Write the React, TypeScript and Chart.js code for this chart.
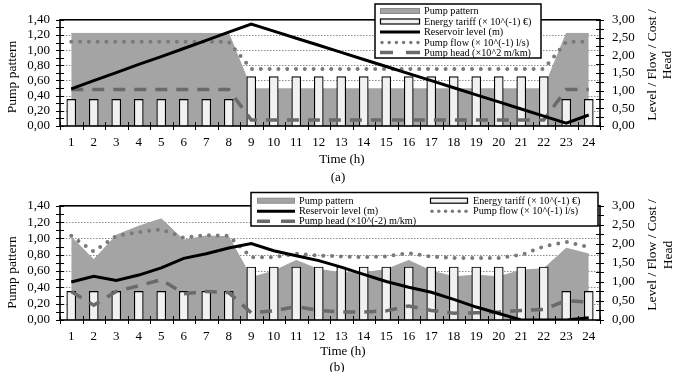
import React, { useEffect, useRef } from 'react';
import { Chart, registerables } from 'chart.js';

Chart.register(...registerables);

const FONT = '"Liberation Serif", "Times New Roman", serif';

const hours = ['1', '2', '3', '4', '5', '6', '7', '8', '9', '10', '11', '12', '13', '14', '15', '16', '17', '18', '19', '20', '21', '22', '23', '24'];
const leftTickLabels = ['0,00', '0,20', '0,40', '0,60', '0,80', '1,00', '1,20', '1,40'];
const rightTickLabels = ['0,00', '0,50', '1,00', '1,50', '2,00', '2,50', '3,00'];

// Panel (a) — pattern & tariff on left axis, lines on right axis
const patternA = [1.22, 1.22, 1.22, 1.22, 1.22, 1.22, 1.22, 1.22, 0.49, 0.49, 0.49, 0.49, 0.49, 0.49, 0.49, 0.49, 0.49, 0.49, 0.49, 0.49, 0.49, 0.49, 1.22, 1.22];
const tariffA = [0.35, 0.35, 0.35, 0.35, 0.35, 0.35, 0.35, 0.35, 0.65, 0.65, 0.65, 0.65, 0.65, 0.65, 0.65, 0.65, 0.65, 0.65, 0.65, 0.65, 0.65, 0.65, 0.35, 0.35];
const levelA = [1.05, 1.28, 1.51, 1.74, 1.96, 2.19, 2.42, 2.65, 2.88, 2.68, 2.48, 2.28, 2.08, 1.88, 1.68, 1.48, 1.28, 1.08, 0.88, 0.68, 0.48, 0.28, 0.08, 0.31];
const flowA = [2.38, 2.38, 2.38, 2.38, 2.38, 2.38, 2.38, 2.38, 1.61, 1.61, 1.61, 1.61, 1.61, 1.61, 1.61, 1.61, 1.61, 1.61, 1.61, 1.61, 1.61, 1.61, 2.38, 2.38];
const headA = [1.03, 1.03, 1.03, 1.03, 1.03, 1.03, 1.03, 1.03, 0.17, 0.17, 0.17, 0.17, 0.17, 0.17, 0.17, 0.17, 0.17, 0.17, 0.17, 0.17, 0.17, 0.17, 1.03, 1.03];

// Panel (b)
const patternB = [1.02, 0.74, 1.04, 1.15, 1.24, 0.98, 1.03, 1.02, 0.52, 0.6, 0.73, 0.62, 0.58, 0.58, 0.62, 0.73, 0.6, 0.53, 0.55, 0.53, 0.61, 0.63, 0.88, 0.81];
const tariffB = [0.35, 0.35, 0.35, 0.35, 0.35, 0.35, 0.35, 0.35, 0.65, 0.65, 0.65, 0.65, 0.65, 0.65, 0.65, 0.65, 0.65, 0.65, 0.65, 0.65, 0.65, 0.65, 0.35, 0.35];
const levelB = [1.0, 1.15, 1.04, 1.18, 1.37, 1.62, 1.74, 1.89, 2.01, 1.82, 1.69, 1.56, 1.39, 1.2, 1.01, 0.86, 0.73, 0.54, 0.34, 0.17, 0.0, 0.0, 0.0, 0.06];
const flowB = [2.21, 1.8, 2.21, 2.31, 2.38, 2.16, 2.23, 2.21, 1.65, 1.65, 1.74, 1.69, 1.67, 1.65, 1.67, 1.76, 1.66, 1.63, 1.63, 1.63, 1.71, 1.93, 2.05, 1.92];
const headB = [0.75, 0.39, 0.75, 0.9, 1.06, 0.69, 0.75, 0.72, 0.19, 0.24, 0.35, 0.25, 0.21, 0.21, 0.24, 0.37, 0.25, 0.18, 0.19, 0.21, 0.25, 0.28, 0.51, 0.47];

const GRAY_AREA = '#a4a4a4';
const GRAY_FLOW = '#7a7a7a';
const GRAY_HEAD = '#6a6a6a';
const BAR_FILL = '#f1f1f1';

type LegendItem = { kind: string; label: string; sx: number; sw: number; tx: number; y: number };
type PanelCfg = {
  height: number;
  padTop: number;
  xHeight: number;
  data: { pattern: number[]; tariff: number[]; level: number[]; flow: number[]; head: number[] };
  leftTitle: { x: number; y: number };
  rightTitle: { x1: number; x2: number; y: number };
  timeTitle: { x: number; y: number };
  caption: { text: string; x: number; y: number };
  box: { x: number; y: number; w: number; h: number };
  items: LegendItem[];
};

function drawSymbol(ctx: CanvasRenderingContext2D, kind: string, x: number, w: number, y: number) {
  ctx.save();
  if (kind === 'pattern') {
    ctx.fillStyle = GRAY_AREA;
    ctx.fillRect(x, y - 2.5, w, 5);
    ctx.strokeStyle = '#8a8a8a';
    ctx.lineWidth = 1;
    ctx.strokeRect(x + 0.5, y - 2.5, w - 1, 5);
  } else if (kind === 'tariff') {
    ctx.fillStyle = BAR_FILL;
    ctx.fillRect(x, y - 2.5, w, 5);
    ctx.strokeStyle = '#000';
    ctx.lineWidth = 1.2;
    ctx.strokeRect(x + 0.5, y - 2.5, w - 1, 5);
  } else if (kind === 'level') {
    ctx.strokeStyle = '#000';
    ctx.lineWidth = 3;
    ctx.beginPath();
    ctx.moveTo(x, y);
    ctx.lineTo(x + w, y);
    ctx.stroke();
  } else if (kind === 'flow') {
    ctx.fillStyle = GRAY_FLOW;
    for (let i = 0; i < 6; i++) {
      ctx.beginPath();
      ctx.arc(x + 2 + i * ((w - 4) / 5), y, 1.7, 0, Math.PI * 2);
      ctx.fill();
    }
  } else if (kind === 'head') {
    ctx.strokeStyle = GRAY_HEAD;
    ctx.lineWidth = 3.5;
    ctx.beginPath();
    ctx.moveTo(x, y);
    ctx.lineTo(x + 13, y);
    ctx.moveTo(x + w - 14, y);
    ctx.lineTo(x + w, y);
    ctx.stroke();
  }
  ctx.restore();
}

function makeDecor(cfg: PanelCfg) {
  return {
    id: 'decor',
    beforeDatasetsDraw(chart: any) {
      const { ctx, chartArea: a } = chart;
      const y = chart.scales.y;
      ctx.save();
      ctx.strokeStyle = '#8c8c8c';
      ctx.lineWidth = 1;
      ctx.setLineDash([1.5, 1.5]);
      for (let i = 1; i < leftTickLabels.length - 1; i++) {
        const py = Math.round(y.getPixelForValue(i * 0.2)) + 0.5;
        ctx.beginPath();
        ctx.moveTo(a.left, py);
        ctx.lineTo(a.right, py);
        ctx.stroke();
      }
      ctx.restore();
    },
    afterDatasetsDraw(chart: any) {
      const { ctx, chartArea: a } = chart;
      const y = chart.scales.y;
      const y1 = chart.scales.y1;
      ctx.save();
      ctx.strokeStyle = '#000';
      ctx.lineWidth = 1.6;
      ctx.strokeRect(a.left, a.top, a.right - a.left, a.bottom - a.top);
      ctx.lineWidth = 1;
      ctx.beginPath();
      for (let i = 0; i <= 14; i++) {
        const py = Math.round(y.getPixelForValue(i * 0.1)) + 0.5;
        ctx.moveTo(a.left - 4, py);
        ctx.lineTo(a.left + 4, py);
      }
      for (let i = 0; i <= 12; i++) {
        const py = Math.round(y1.getPixelForValue(i * 0.25)) + 0.5;
        ctx.moveTo(a.right - 4, py);
        ctx.lineTo(a.right + 4, py);
      }
      const n = hours.length;
      const w = (a.right - a.left) / n;
      for (let i = 0; i <= n; i++) {
        const px = Math.round(a.left + i * w) + 0.5;
        ctx.moveTo(px, a.bottom - 4);
        ctx.lineTo(px, a.bottom + 4);
      }
      ctx.stroke();
      ctx.restore();
    },
    afterDraw(chart: any) {
      const ctx: CanvasRenderingContext2D = chart.ctx;
      ctx.save();
      ctx.fillStyle = '#000';
      ctx.textAlign = 'center';
      ctx.textBaseline = 'middle';
      ctx.font = `13.5px ${FONT}`;
      ctx.save();
      ctx.translate(cfg.leftTitle.x, cfg.leftTitle.y);
      ctx.rotate(-Math.PI / 2);
      ctx.fillText('Pump pattern', 0, 0);
      ctx.restore();
      ctx.save();
      ctx.translate(cfg.rightTitle.x1, cfg.rightTitle.y);
      ctx.rotate(-Math.PI / 2);
      ctx.fillText('Level / Flow / Cost /', 0, 0);
      ctx.restore();
      ctx.save();
      ctx.translate(cfg.rightTitle.x2, cfg.rightTitle.y);
      ctx.rotate(-Math.PI / 2);
      ctx.fillText('Head', 0, 0);
      ctx.restore();
      ctx.font = `13px ${FONT}`;
      ctx.fillText('Time (h)', cfg.timeTitle.x, cfg.timeTitle.y);
      ctx.fillText(cfg.caption.text, cfg.caption.x, cfg.caption.y);
      const b = cfg.box;
      ctx.fillStyle = '#fff';
      ctx.fillRect(b.x, b.y, b.w, b.h);
      ctx.strokeStyle = '#000';
      ctx.lineWidth = 1.5;
      ctx.strokeRect(b.x, b.y, b.w, b.h);
      ctx.font = `10.2px ${FONT}`;
      ctx.textAlign = 'left';
      for (const it of cfg.items) {
        drawSymbol(ctx, it.kind, it.sx, it.sw, it.y);
        ctx.fillStyle = '#000';
        ctx.fillText(it.label, it.tx, it.y + 0.5);
      }
      ctx.restore();
    },
  };
}

function Panel({ cfg }: { cfg: PanelCfg }) {
  const ref = useRef<HTMLCanvasElement | null>(null);
  useEffect(() => {
    if (!ref.current) return;
    const d = cfg.data;
    const chart = new Chart(ref.current, {
      type: 'bar',
      data: {
        labels: hours,
        datasets: [
          {
            type: 'line',
            label: 'Pump pattern',
            data: d.pattern,
            yAxisID: 'y',
            fill: 'origin',
            backgroundColor: GRAY_AREA,
            borderColor: GRAY_AREA,
            borderWidth: 1,
            pointRadius: 0,
            tension: 0,
            order: 5,
          } as any,
          {
            type: 'bar',
            label: 'Energy tariff',
            data: d.tariff,
            yAxisID: 'y',
            backgroundColor: BAR_FILL,
            borderColor: '#000',
            borderWidth: 1.2,
            barThickness: 9,
            order: 4,
          } as any,
          {
            type: 'line',
            label: 'Pump head',
            data: d.head,
            yAxisID: 'y1',
            borderColor: GRAY_HEAD,
            borderWidth: 3.5,
            borderDash: [12, 9],
            pointRadius: 0,
            fill: false,
            order: 3,
          } as any,
          {
            type: 'line',
            label: 'Pump flow',
            data: d.flow,
            yAxisID: 'y1',
            borderColor: GRAY_FLOW,
            borderWidth: 4,
            borderDash: [0, 8.8],
            borderCapStyle: 'round',
            pointRadius: 0,
            fill: false,
            order: 2,
          } as any,
          {
            type: 'line',
            label: 'Reservoir level',
            data: d.level,
            yAxisID: 'y1',
            borderColor: '#000',
            borderWidth: 3,
            pointRadius: 0,
            fill: false,
            order: 1,
          } as any,
        ],
      },
      options: {
        animation: false,
        responsive: false,
        maintainAspectRatio: false,
        events: [],
        layout: { padding: { top: cfg.padTop, left: 0, right: 0, bottom: 0 } },
        plugins: { legend: { display: false }, tooltip: { enabled: false }, title: { display: false } },
        scales: {
          x: {
            type: 'category',
            offset: true,
            grid: { display: false, drawTicks: false, tickLength: 0 },
            border: { display: false },
            ticks: { color: '#000', font: { family: FONT, size: 13 }, padding: 9, maxRotation: 0, autoSkip: false },
            afterFit: (s: any) => {
              s.height = cfg.xHeight;
            },
          },
          y: {
            position: 'left',
            min: 0,
            max: 1.4,
            grid: { display: false, drawTicks: false, tickLength: 0 },
            border: { display: false },
            ticks: {
              stepSize: 0.2,
              autoSkip: false,
              color: '#000',
              font: { family: FONT, size: 13 },
              padding: 10,
              callback: (v: any) => leftTickLabels[Math.round(Number(v) / 0.2)] ?? '',
            },
            afterFit: (s: any) => {
              s.width = 60;
            },
          },
          y1: {
            position: 'right',
            min: 0,
            max: 3,
            grid: { display: false, drawTicks: false, tickLength: 0 },
            border: { display: false },
            ticks: {
              stepSize: 0.5,
              autoSkip: false,
              color: '#000',
              font: { family: FONT, size: 13 },
              padding: 12,
              callback: (v: any) => rightTickLabels[Math.round(Number(v) / 0.5)] ?? '',
            },
            afterFit: (s: any) => {
              s.width = 77;
            },
          },
        },
      } as any,
      plugins: [makeDecor(cfg) as any],
    });
    return () => chart.destroy();
  }, [cfg]);
  return (
    <div style={{ width: 677, height: cfg.height, position: 'relative' }}>
      <canvas ref={ref} width={677} height={cfg.height} style={{ width: 677, height: cfg.height, display: 'block' }} />
    </div>
  );
}

const cfgA: PanelCfg = {
  height: 186,
  padTop: 4,
  xHeight: 60,
  data: { pattern: patternA, tariff: tariffA, level: levelA, flow: flowA, head: headA },
  leftTitle: { x: 12, y: 77 },
  rightTitle: { x1: 652, x2: 667, y: 65 },
  timeTitle: { x: 342, y: 160 },
  caption: { text: '(a)', x: 338, y: 178 },
  box: { x: 375, y: 4, w: 166, h: 54 },
  items: [
    { kind: 'pattern', label: 'Pump pattern', sx: 380, sw: 40, tx: 424, y: 11 },
    { kind: 'tariff', label: 'Energy tariff (× 10^(-1) €)', sx: 380, sw: 40, tx: 424, y: 21.5 },
    { kind: 'level', label: 'Reservoir level (m)', sx: 380, sw: 40, tx: 424, y: 32 },
    { kind: 'flow', label: 'Pump flow (× 10^(-1) l/s)', sx: 380, sw: 40, tx: 424, y: 42.5 },
    { kind: 'head', label: 'Pump head (×10^2 m/km)', sx: 380, sw: 40, tx: 424, y: 52.5 },
  ],
};

const cfgB: PanelCfg = {
  height: 186,
  padTop: 6.5,
  xHeight: 52,
  data: { pattern: patternB, tariff: tariffB, level: levelB, flow: flowB, head: headB },
  leftTitle: { x: 12, y: 86.5 },
  rightTitle: { x1: 652, x2: 668, y: 69 },
  timeTitle: { x: 343, y: 165.5 },
  caption: { text: '(b)', x: 337, y: 182 },
  box: { x: 251, y: 6.5, w: 347, h: 33.5 },
  items: [
    { kind: 'pattern', label: 'Pump pattern', sx: 257, sw: 38, tx: 299, y: 14.7 },
    { kind: 'level', label: 'Reservoir level (m)', sx: 257, sw: 38, tx: 299, y: 25.3 },
    { kind: 'head', label: 'Pump head (×10^(-2) m/km)', sx: 257, sw: 38, tx: 299, y: 35.3 },
    { kind: 'tariff', label: 'Energy tariff (× 10^(-1) €)', sx: 430, sw: 38, tx: 473, y: 14.7 },
    { kind: 'flow', label: 'Pump flow (× 10^(-1) l/s)', sx: 430, sw: 38, tx: 473, y: 25.3 },
  ],
};

export default function App() {
  return (
    <div style={{ position: 'absolute', left: 0, top: 0, width: 677, height: 372, background: '#fff' }}>
      <Panel cfg={cfgA} />
      <Panel cfg={cfgB} />
    </div>
  );
}
